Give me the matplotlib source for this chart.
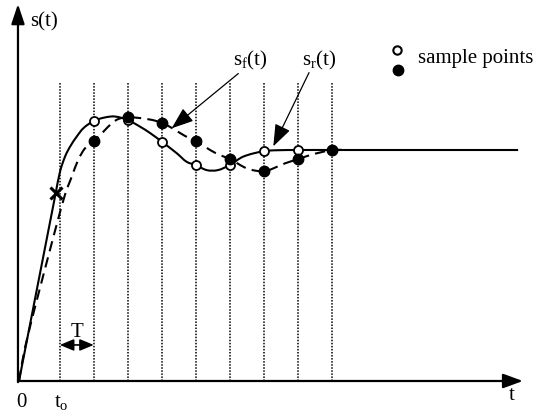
import matplotlib
matplotlib.use("Agg")
import matplotlib.pyplot as plt
from matplotlib.path import Path
from matplotlib.patches import PathPatch

plt.rcParams['font.family'] = ['Liberation Serif', 'DejaVu Serif']
plt.rcParams['mathtext.fontset'] = 'custom'
plt.rcParams['mathtext.rm'] = 'Liberation Serif'
plt.rcParams['mathtext.it'] = 'Liberation Serif:italic'

# time in units of T, sampling starts at t0
t0 = 1.2
sample_t = [2.2, 3.2, 4.2, 5.2, 6.2, 7.2, 8.2, 9.2]
grid_t = [1.2, 2.2, 3.2, 4.2, 5.2, 6.2, 7.2, 8.2, 9.2]
grid_top = 1.294

# solid curve s_r(t)
solid_t = [0, 1.08, 1.206, 1.353, 1.5, 1.697, 1.891, 2.2, 2.53, 2.82, 3.2, 3.56, 3.85,
           4.2, 4.64, 4.93, 5.2, 5.52, 5.85, 6.2, 6.59, 7.2, 7.6, 8.2, 9.2, 14.68]
solid_s = [0, 0.814, 0.906, 0.971, 1.014, 1.058, 1.094, 1.126, 1.141, 1.145, 1.130, 1.101, 1.074,
           1.036, 0.986, 0.949, 0.935, 0.913, 0.913, 0.935, 0.971, 0.995, 0.999, 1.0, 1.0, 1.0]

# dashed curve s_f(t)
dash_t = [0, 0.18, 0.91, 1.35, 1.55, 1.74, 1.94, 2.2, 2.48, 2.73, 2.92, 3.2, 3.38,
          3.85, 4.2, 4.5, 4.88, 5.2, 5.62, 5.91, 6.2, 6.71, 7.2, 7.44, 7.82, 8.2,
          8.56, 8.85, 9.2, 9.6]
dash_s = [0, 0.147, 0.567, 0.805, 0.884, 0.957, 1.007, 1.039, 1.079, 1.116, 1.134, 1.143, 1.141,
          1.132, 1.118, 1.095, 1.061, 1.039, 1.0, 0.978, 0.961, 0.920, 0.907, 0.918, 0.942, 0.960,
          0.978, 0.989, 1.0, 1.0]

open_s = [1.126, 1.130, 1.036, 0.935, 0.935, 0.995, 1.0, 1.0]
filled_s = [1.039, 1.143, 1.118, 1.039, 0.961, 0.907, 0.960, 1.0]

cross_t, cross_s = 1.08, 0.814


def smooth_path(xs, ys):
    """Cubic Hermite Bezier path through the read points (rendering only)."""
    n = len(xs)
    m = []
    for i in range(n):
        if i == 0:
            m.append((ys[1] - ys[0]) / (xs[1] - xs[0]))
        elif i == n - 1:
            m.append((ys[-1] - ys[-2]) / (xs[-1] - xs[-2]))
        else:
            m.append((ys[i + 1] - ys[i - 1]) / (xs[i + 1] - xs[i - 1]))
    verts = [(xs[0], ys[0])]
    codes = [Path.MOVETO]
    for i in range(n - 1):
        h = xs[i + 1] - xs[i]
        verts += [(xs[i] + h / 3, ys[i] + m[i] * h / 3),
                  (xs[i + 1] - h / 3, ys[i + 1] - m[i + 1] * h / 3),
                  (xs[i + 1], ys[i + 1])]
        codes += [Path.CURVE4] * 3
    return Path(verts, codes)


fig = plt.figure(figsize=(5.46, 4.11), dpi=100)
ax = fig.add_axes([0, 0, 1, 1])
ax.set_xlim(-0.5588, 15.5)
ax.set_ylim(-0.1299, 1.6494)
ax.axis('off')

# dotted sampling grid
for g in grid_t:
    ax.plot([g, g], [0, grid_top], color='black', lw=1.1, linestyle=(0, (1, 1)), zorder=1)

# axes with arrows
ax.annotate('', xy=(14.82, 0), xytext=(-0.03, 0),
            arrowprops=dict(arrowstyle='-|>,head_length=0.6,head_width=0.22', lw=1.6,
                            color='black', shrinkA=0, shrinkB=0, mutation_scale=20), zorder=3)
ax.annotate('', xy=(-0.03, 1.632), xytext=(-0.03, -0.005),
            arrowprops=dict(arrowstyle='-|>,head_length=0.6,head_width=0.2', lw=1.6,
                            color='black', shrinkA=0, shrinkB=0, mutation_scale=20), zorder=3)

# curves
ax.add_patch(PathPatch(smooth_path(solid_t, solid_s), fill=False, edgecolor='black',
                       lw=1.5, zorder=2))
ax.add_patch(PathPatch(smooth_path(dash_t, dash_s), fill=False, edgecolor='black',
                       lw=1.5, linestyle=(0, (5, 3)), zorder=2))

# sample points
ax.plot(sample_t, open_s, 'o', ms=6.5, mfc='white', mec='black', mew=1.3, zorder=4)
ax.plot(sample_t, filled_s, 'o', ms=7.5, mfc='black', mec='black', zorder=5)
ax.plot([cross_t], [cross_s], 'x', ms=8.5, mew=2.2, color='black', zorder=5)

# annotations
ax.annotate('', xy=(4.49, 1.094), xytext=(6.45, 1.331),
            arrowprops=dict(arrowstyle='-|>,head_length=0.75,head_width=0.28', lw=0.9,
                            color='black', shrinkA=0, shrinkB=0, mutation_scale=18), zorder=6)
ax.annotate('', xy=(7.48, 1.016), xytext=(8.53, 1.335),
            arrowprops=dict(arrowstyle='-|>,head_length=0.75,head_width=0.28', lw=0.9,
                            color='black', shrinkA=0, shrinkB=0, mutation_scale=18), zorder=6)
ax.text(6.79, 1.368, r'$\mathregular{s_f(t)}$', fontsize=15, ha='center', va='baseline')
ax.text(8.82, 1.368, r'$\mathregular{s_r(t)}$', fontsize=15, ha='center', va='baseline')

# legend
ax.plot([11.11], [1.433], 'o', ms=6, mfc='white', mec='black', mew=1.5)
ax.plot([11.16], [1.346], 'o', ms=7.5, mfc='black', mec='black')
ax.text(11.74, 1.375, 'sample points', fontsize=15, ha='left', va='baseline')

# labels
ax.text(0.32, 1.534, 's(t)', fontsize=15, ha='left', va='baseline')
ax.text(0.06, -0.113, '0', fontsize=15, ha='center', va='baseline')
ax.text(1.03, -0.111, r'$\mathregular{t_o}$', fontsize=15, ha='left', va='baseline')
ax.text(14.49, -0.082, 't', fontsize=15, ha='center', va='baseline')
ax.text(1.72, 0.19, 'T', fontsize=15, ha='center', va='baseline')
ax.annotate('', xy=(1.2, 0.156), xytext=(2.2, 0.156),
            arrowprops=dict(arrowstyle='<|-|>,head_length=0.6,head_width=0.25', lw=1.2,
                            color='black', shrinkA=0, shrinkB=0, mutation_scale=14))

fig.savefig('out.png', dpi=100)
